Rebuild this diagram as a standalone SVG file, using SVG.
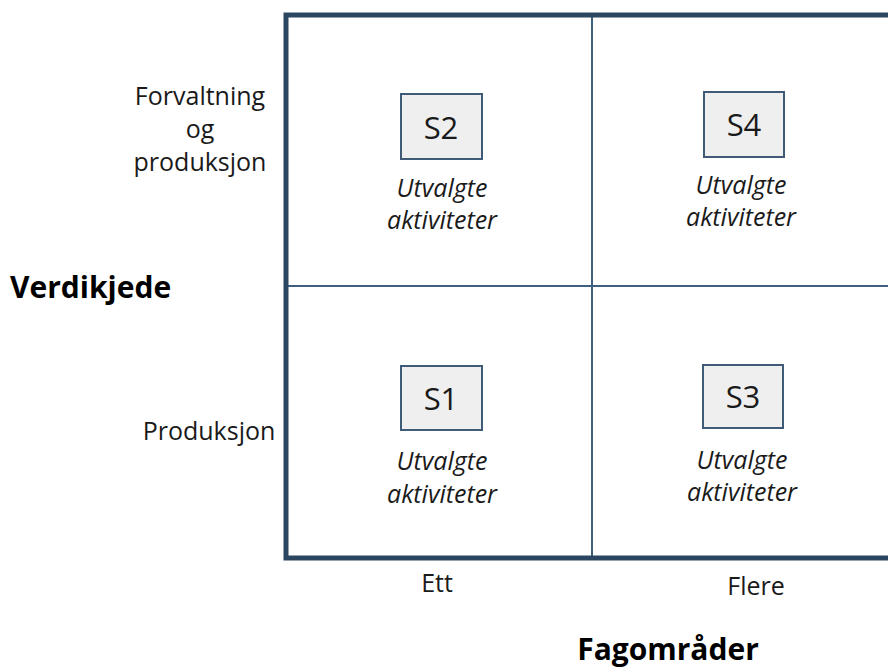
<svg xmlns="http://www.w3.org/2000/svg" width="888" height="668" viewBox="0 0 888 668">
  <style>
    text { font-family: "Open Sans", "Liberation Sans", sans-serif; fill: #1a1a1a; }
    .axis { font-size: 25px; text-anchor: middle; }
    .title { font-size: 30px; font-weight: bold; fill: #000; }
    .tag { font-size: 31px; text-anchor: middle; }
    .note { font-size: 25px; font-style: italic; text-anchor: middle; }
    .box { fill: #efefef; stroke: #3f5b78; stroke-width: 2; }
    .frame { fill: none; stroke: #2d4660; stroke-width: 5; }
    .divider { stroke: #3d6080; stroke-width: 2; }
  </style>
  <rect width="888" height="668" fill="#ffffff"/>

  <!-- matrix grid -->
  <g id="grid">
    <line class="divider" x1="592" y1="15" x2="592" y2="558"/>
    <line class="divider" x1="286" y1="286" x2="900" y2="286"/>
    <rect class="frame" x="286" y="15" width="620" height="543"/>
  </g>

  <!-- axis labels -->
  <g id="y-axis">
    <text class="axis" x="200" y="105">Forvaltning</text>
    <text class="axis" x="200" y="138">og</text>
    <text class="axis" x="200" y="171">produksjon</text>
    <text class="axis" x="209" y="440">Produksjon</text>
    <text class="title" x="10" y="298">Verdikjede</text>
  </g>
  <g id="x-axis">
    <text class="axis" x="437" y="592">Ett</text>
    <text class="axis" x="756" y="595">Flere</text>
    <text class="title" x="668" y="660" text-anchor="middle">Fagområder</text>
  </g>

  <!-- quadrants -->
  <g id="s2">
    <rect class="box" x="401" y="94" width="81" height="65"/>
    <text class="tag" x="441" y="139">S2</text>
    <text class="note" x="442" y="197">Utvalgte</text>
    <text class="note" x="442" y="229">aktiviteter</text>
  </g>
  <g id="s4">
    <rect class="box" x="704" y="92" width="80" height="65"/>
    <text class="tag" x="744" y="136">S4</text>
    <text class="note" x="741" y="194">Utvalgte</text>
    <text class="note" x="741" y="226">aktiviteter</text>
  </g>
  <g id="s1">
    <rect class="box" x="401" y="366" width="81" height="64"/>
    <text class="tag" x="441" y="410">S1</text>
    <text class="note" x="442" y="470">Utvalgte</text>
    <text class="note" x="442" y="503">aktiviteter</text>
  </g>
  <g id="s3">
    <rect class="box" x="703" y="365" width="80" height="63"/>
    <text class="tag" x="743" y="408">S3</text>
    <text class="note" x="742" y="469">Utvalgte</text>
    <text class="note" x="742" y="501">aktiviteter</text>
  </g>
</svg>
